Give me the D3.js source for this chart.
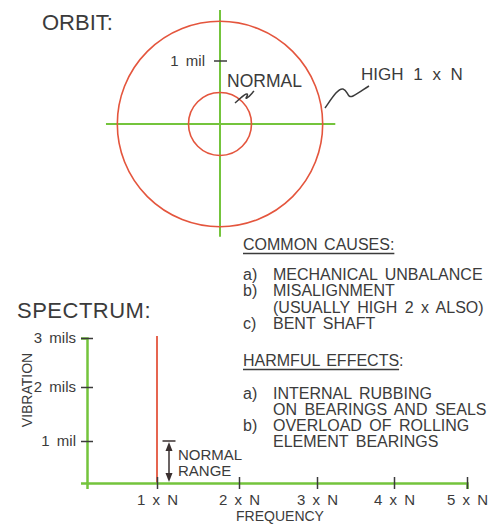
<!DOCTYPE html>
<html>
<head>
<meta charset="utf-8">
<script src="https://cdn.jsdelivr.net/npm/d3@7"></script>
<style>
  body { margin: 0; background: #fff; }
  text { font-family: "Liberation Sans", Arial, Helvetica, sans-serif; fill: #3b3b3b; }
</style>
</head>
<body>
<script>
// orbit: radius of each orbit, in mils
var orbitRadii = [0.5, 1.63];
var orbitNames = ["NORMAL", "HIGH 1 x N"];

// spectrum
var harmonics = [1, 2, 3, 4, 5];
var harmonicLabels = ["1 x N", "2 x N", "3 x N", "4 x N", "5 x N"];
var vibTicks = [1, 2, 3];
var vibTickLabels = ["1 mil", "2 mils", "3 mils"];
var peaks = [{h: 1, v: 3}];
var normalRange = [0, 1];

var causes = [["a)", "MECHANICAL UNBALANCE"], ["b)", "MISALIGNMENT"], ["", "(USUALLY HIGH 2 x ALSO)"], ["c)", "BENT SHAFT"]];
var effects = [["a)", "INTERNAL RUBBING"], ["", "ON BEARINGS AND SEALS"], ["b)", "OVERLOAD OF ROLLING"], ["", "ELEMENT BEARINGS"]];

var width = 490, height = 525;
var ink = "#3b3b3b", green = "#74c43c", red = "#e4553d";

var svg = d3.select("body").append("svg")
    .attr("width", width)
    .attr("height", height);

// ---------- ORBIT ----------
svg.append("text")
    .attr("x", 42).attr("y", 30)
    .style("font-size", "22px")
    .text("ORBIT:");

var cx = 220, cy = 124;
var r = d3.scaleLinear().domain([0, 1]).range([0, 63]);

var orbit = svg.append("g").attr("transform", "translate(" + cx + "," + cy + ")");

orbit.append("line")
    .attr("x1", -r(1.81)).attr("x2", r(1.83))
    .attr("y1", 0).attr("y2", 0)
    .attr("stroke", green).attr("stroke-width", 2);
orbit.append("line")
    .attr("x1", 0).attr("x2", 0)
    .attr("y1", -r(1.81)).attr("y2", r(1.79))
    .attr("stroke", green).attr("stroke-width", 2);

orbit.selectAll(".orb")
    .data(orbitRadii)
    .enter().append("circle")
    .attr("class", "orb")
    .attr("r", function (d) { return r(d); })
    .attr("fill", "none")
    .attr("stroke", red)
    .attr("stroke-width", 1.6);

// 1 mil mark
orbit.append("line")
    .attr("x1", -6).attr("x2", 7)
    .attr("y1", -r(1)).attr("y2", -r(1))
    .attr("stroke", ink).attr("stroke-width", 1.5);
orbit.append("text")
    .attr("x", -15).attr("y", -r(1) + 5)
    .attr("text-anchor", "end")
    .style("font-size", "15px")
    .style("word-spacing", "3px")
    .text("1 mil");

// labels with squiggle leaders
svg.append("text")
    .attr("x", 227).attr("y", 87)
    .style("font-size", "17.5px")
    .text(orbitNames[0]);
svg.append("path")
    .attr("d", "M235,103 C240,99 245,93 247,94 C249,95 244,99 247,98 C250,96 252,93 254,91")
    .attr("fill", "none").attr("stroke", ink).attr("stroke-width", 1.5);

svg.append("text")
    .attr("x", 361).attr("y", 80)
    .style("font-size", "17px")
    .style("word-spacing", "5px")
    .text(orbitNames[1]);
svg.append("path")
    .attr("d", "M325,108 C332,98 338,88 343,89 C348,90 347,99 353,96 C359,93 364,89 369,86")
    .attr("fill", "none").attr("stroke", ink).attr("stroke-width", 1.5);

// ---------- NOTES ----------
function heading(txt, y, underlineColon) {
    var t = svg.append("text")
        .attr("x", 243).attr("y", y)
        .style("font-size", "16px")
        .style("word-spacing", "2px");
    var main = t.append("tspan").text(txt);
    t.append("tspan").text(":");
    var len = underlineColon ? t.node().getComputedTextLength() : main.node().getComputedTextLength();
    svg.append("line")
        .attr("x1", 243).attr("x2", 243 + len)
        .attr("y1", y + 3.5).attr("y2", y + 3.5)
        .attr("stroke", ink).attr("stroke-width", 1.3);
}

function list(rows, y0, step) {
    var g = svg.append("g");
    rows.forEach(function (row, i) {
        g.append("text")
            .attr("x", 243).attr("y", y0 + i * step)
            .style("font-size", "16px")
            .text(row[0]);
        g.append("text")
            .attr("x", 273).attr("y", y0 + i * step)
            .style("font-size", "16px")
            .style("word-spacing", "3px")
            .text(row[1]);
    });
}

heading("COMMON CAUSES", 250, true);
list(causes, 280, 16.3);
heading("HARMFUL EFFECTS", 366, false);
list(effects, 399, 16);

// ---------- SPECTRUM ----------
svg.append("text")
    .attr("x", 17).attr("y", 318)
    .style("font-size", "22px")
    .style("letter-spacing", "0.5px")
    .text("SPECTRUM:");

// hand drawn axes are not quite even, so the scales follow the drawn ticks
var xScale = d3.scaleLinear()
    .domain([0, 1, 2, 3, 4, 5])
    .range([87, 157, 239, 317, 394, 467]);
var yScale = d3.scaleLinear()
    .domain([0, 1, 2, 3])
    .range([483, 441, 387, 338]);

var xAxis = svg.append("g")
    .attr("transform", "translate(0," + yScale(0) + ")")
    .call(d3.axisBottom(xScale)
        .tickValues(harmonics)
        .tickFormat(function (d, i) { return harmonicLabels[i]; })
        .tickSizeOuter(0).tickSize(6).tickPadding(5));

var yAxis = svg.append("g")
    .attr("transform", "translate(" + xScale(0) + ",0)")
    .call(d3.axisLeft(yScale)
        .tickValues(vibTicks)
        .tickFormat(function (d, i) { return vibTickLabels[i]; })
        .tickSizeOuter(0).tickSize(6).tickPadding(5));

[xAxis, yAxis].forEach(function (ax) {
    ax.select(".domain")
        .attr("stroke", green)
        .attr("stroke-width", 2.5);
    ax.selectAll(".tick line")
        .attr("stroke", ink)
        .attr("stroke-width", 1.5);
    ax.selectAll(".tick text")
        .attr("fill", ink)
        .style("font-size", "15px")
        .style("font-family", "'Liberation Sans', Arial, sans-serif")
        .style("word-spacing", "3px");
});
// ticks cross the axis lines
xAxis.selectAll(".tick line").attr("y1", -6).attr("y2", 6);
yAxis.selectAll(".tick line").attr("x1", -6).attr("x2", 6);

svg.selectAll(".peak")
    .data(peaks)
    .enter().append("line")
    .attr("class", "peak")
    .attr("x1", function (d) { return xScale(d.h); })
    .attr("x2", function (d) { return xScale(d.h); })
    .attr("y1", yScale(0))
    .attr("y2", function (d) { return yScale(d.v) - 2; })
    .attr("stroke", red)
    .attr("stroke-width", 1.8);
xAxis.raise();

// normal range arrow
var ax0 = xScale(1) + 12;
var yTop = yScale(normalRange[1]), yBot = yScale(normalRange[0]) - 1;
var arrow = svg.append("g").attr("stroke", "#3a3030").attr("fill", "#3a3030");
arrow.append("line")
    .attr("x1", ax0 - 6.5).attr("x2", ax0 + 6.5)
    .attr("y1", yTop).attr("y2", yTop)
    .attr("stroke-width", 1.5);
arrow.append("line")
    .attr("x1", ax0).attr("x2", ax0)
    .attr("y1", yTop + 4).attr("y2", yBot - 4)
    .attr("stroke-width", 1.5);
arrow.append("path")
    .attr("stroke", "none")
    .attr("d", "M" + ax0 + "," + (yTop + 1) + "L" + (ax0 - 3.5) + "," + (yTop + 10) + "L" + (ax0 + 3.5) + "," + (yTop + 10) + "Z");
arrow.append("path")
    .attr("stroke", "none")
    .attr("d", "M" + ax0 + "," + yBot + "L" + (ax0 - 3.5) + "," + (yBot - 9) + "L" + (ax0 + 3.5) + "," + (yBot - 9) + "Z");

svg.append("text")
    .attr("x", 178).attr("y", 460)
    .style("font-size", "15px")
    .text("NORMAL");
svg.append("text")
    .attr("x", 178).attr("y", 475.5)
    .style("font-size", "15px")
    .text("RANGE");

// axis titles
svg.append("text")
    .attr("transform", "translate(31.5,390) rotate(-90)")
    .attr("text-anchor", "middle")
    .style("font-size", "14px")
    .text("VIBRATION");
svg.append("text")
    .attr("x", 280).attr("y", 521)
    .attr("text-anchor", "middle")
    .style("font-size", "14px")
    .text("FREQUENCY");
</script>
</body>
</html>
